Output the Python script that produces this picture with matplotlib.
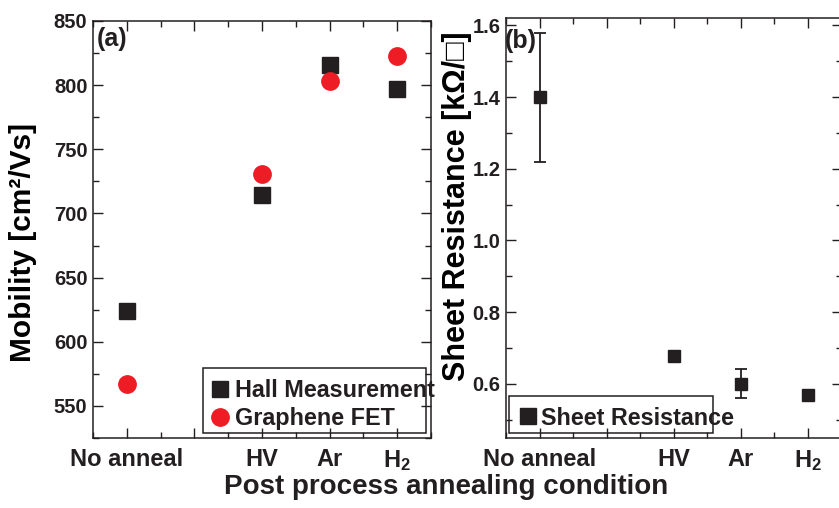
import numpy as np
import matplotlib
import matplotlib.pyplot as plt
from matplotlib.patches import Rectangle
from matplotlib.lines import Line2D
from matplotlib.ticker import MultipleLocator

matplotlib.use('Agg')

# Plot constants
INK = '#231f20'
RED = '#ee1c24'
FONT = ['Liberation Sans', 'DejaVu Sans']

plt.rcParams['font.family'] = FONT
plt.rcParams['font.weight'] = 'bold'
plt.rcParams['mathtext.default'] = 'regular'
plt.rcParams['text.color'] = INK

# Data
conditions = ['No anneal', '', 'HV', 'Ar', r'$\mathregular{H_2}$']
cond_pos = [1, 3, 4, 5]
hall_mobility = [624, 714, 816, 797]
fet_mobility = [567, 731, 803, 823]
sheet_res = [1.40, 0.678, 0.60, 0.569]
sheet_err = [0.18, 0.01, 0.04, 0.01]


def style_axis(ax, ymajor, yminor):
    ax.set_xlim(0.5, 5.5)
    ax.set_xticks([1, 2, 3, 4, 5])
    ax.set_xticklabels(conditions, fontsize=17, fontweight='bold')
    ax.xaxis.set_minor_locator(MultipleLocator(0.5))
    ax.yaxis.set_major_locator(MultipleLocator(ymajor))
    ax.yaxis.set_minor_locator(MultipleLocator(yminor))
    ax.tick_params(which='both', direction='in', top=True, right=True,
                   colors=INK, width=1.0)
    ax.tick_params(which='major', length=7)
    ax.tick_params(which='minor', length=4)
    ax.tick_params(axis='y', labelsize=14.5, pad=4)
    ax.tick_params(axis='x', pad=7)
    for s in ax.spines.values():
        s.set_linewidth(1.1)
        s.set_color(INK)


fig = plt.figure(figsize=(8.39, 5.08), dpi=100)
ax1 = fig.add_axes([0.1108, 0.1378, 0.4029, 0.8209])
ax2 = fig.add_axes([0.6031, 0.1372, 0.4000, 0.8268])

# (a) mobility
ax1.plot(cond_pos, hall_mobility, 's', color=INK, markersize=11.8, label='Hall Measurement')
ax1.plot(cond_pos, fet_mobility, 'o', color=RED, markersize=12.5, label='Graphene FET')
ax1.set_ylim(525, 850)
style_axis(ax1, 50, 25)
ax1.set_ylabel('Mobility [cm²/Vs]', fontsize=21.5, fontweight='bold')
ax1.yaxis.set_label_coords(-0.166, 0.469)
ax1.text(0.01, 0.985, '(a)', transform=ax1.transAxes, fontsize=18, va='top', ha='left')
ax1.add_patch(Rectangle((0.3246, 0.012), 0.6594, 0.156, transform=ax1.transAxes,
                        fill=False, edgecolor=INK, linewidth=1.1, zorder=5))
ax1.legend(loc='center left', bbox_to_anchor=(0.3396, 0.08), frameon=False,
           handlelength=1.06, handletextpad=0.09, borderpad=0,
           borderaxespad=0, labelspacing=0.2, prop={'weight': 'bold', 'size': 16.8})

# (b) sheet resistance
ax2.errorbar(cond_pos, sheet_res, yerr=sheet_err, fmt='s', color=INK, markersize=8.8,
             elinewidth=1.3, capsize=4.2, capthick=1.3)
ax2.set_ylim(0.448, 1.62)
style_axis(ax2, 0.2, 0.1)
ax2.set_ylabel('Sheet Resistance [kΩ/□]', fontsize=22, fontweight='bold')
ax2.yaxis.set_label_coords(-0.101, 0.553)
ax2.text(-0.003, 0.975, '(b)', transform=ax2.transAxes, fontsize=18, va='top', ha='left')
ax2.add_patch(Rectangle((0.009, 0.013), 0.607, 0.088, transform=ax2.transAxes,
                        fill=False, edgecolor=INK, linewidth=1.1, zorder=5))
sheet_handle = Line2D([], [], linestyle='none', marker='s', color=INK, markersize=11)
ax2.legend([sheet_handle], ['Sheet Resistance'], loc='center left',
           bbox_to_anchor=(0.045, 0.048), frameon=False,
           handlelength=0.6, handletextpad=0.25, borderpad=0, borderaxespad=0,
           prop={'weight': 'bold', 'size': 16.8})

fig.text(0.5316, 0.0276, 'Post process annealing condition', fontsize=20,
         fontweight='bold', ha='center', va='baseline')

fig.savefig('out.png', dpi=100)
